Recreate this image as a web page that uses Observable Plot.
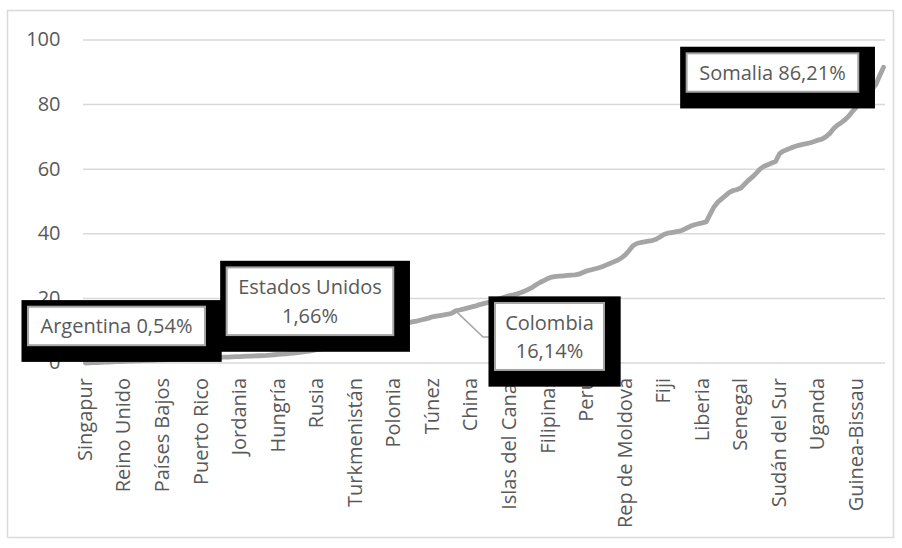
<!DOCTYPE html>
<html>
<head>
<meta charset="utf-8">
<script src="https://cdn.jsdelivr.net/npm/d3@7"></script>
<script src="https://cdn.jsdelivr.net/npm/@observablehq/plot@0.6"></script>
<style>
  html, body { margin: 0; padding: 0; background: #ffffff; }
  #chart { width: 902px; height: 548px; }
  svg { display: block; }
</style>
</head>
<body>
<div id="chart"></div>
<script>
// ---- Data ----
const tickLabels = ["Singapur", "Reino Unido", "Países Bajos", "Puerto Rico", "Jordania", "Hungría", "Rusia",
  "Turkmenistán", "Polonia", "Túnez", "China", "Islas del Canal", "Filipinas", "Perú", "Rep de Moldova",
  "Fiji", "Liberia", "Senegal", "Sudán del Sur", "Uganda", "Guinea-Bissau"];
const tickPositions = [0, 10, 20, 30, 40, 50, 60, 70, 80, 90, 100, 110, 120, 130, 140, 150, 160, 170, 180, 190, 200];
const yTicks = [0, 20, 40, 60, 80, 100];

// One value per country, sorted ascending (percent)
const shares = [
  0.0, 0.05, 0.1, 0.15, 0.2, 0.25, 0.3, 0.35, 0.4, 0.45,
  0.54, 0.57, 0.6, 0.65, 0.7, 0.75, 0.8, 0.85, 0.9, 0.95,
  1.0, 1.05, 1.1, 1.15, 1.2, 1.25, 1.3, 1.35, 1.4, 1.45,
  1.5, 1.55, 1.6, 1.66, 1.7, 1.75, 1.8, 1.85, 1.9, 1.95,
  2.0, 2.05, 2.1, 2.15, 2.2, 2.25, 2.3, 2.35, 2.45, 2.55,
  2.65, 2.75, 2.85, 2.95, 3.05, 3.2, 3.35, 3.5, 3.7, 3.9,
  4.1, 4.3, 4.5, 4.75, 5.0, 5.25, 5.5, 5.8, 6.1, 6.4,
  6.8, 7.1, 7.4, 7.7, 8.0, 8.3, 8.6, 8.9, 9.3, 9.7,
  10.1, 10.6, 11.1, 11.8, 12.5, 12.8, 13.0, 13.3, 13.6, 13.9,
  14.3, 14.5, 14.7, 14.9, 15.1, 15.4, 16.14, 16.4, 16.7, 17.0,
  17.3, 17.6, 18.0, 18.3, 18.6, 18.9, 19.3, 19.7, 20.1, 20.5,
  20.9, 21.1, 21.4, 21.8, 22.3, 22.9, 23.5, 24.3, 25.0, 25.6,
  26.2, 26.6, 26.8, 26.9, 27.0, 27.1, 27.2, 27.3, 27.5, 28.0,
  28.5, 28.8, 29.1, 29.4, 29.8, 30.3, 30.8, 31.3, 31.8, 32.5,
  33.5, 34.8, 36.3, 37.0, 37.3, 37.5, 37.7, 37.9, 38.3, 39.0,
  39.8, 40.2, 40.4, 40.6, 40.8, 41.2, 41.8, 42.4, 42.8, 43.1,
  43.4, 43.7, 46.0, 48.3, 49.8, 50.8, 51.8, 52.8, 53.4, 53.7,
  54.2, 55.4, 56.6, 57.6, 58.8, 60.1, 60.9, 61.4, 61.9, 62.4,
  64.8, 65.6, 66.1, 66.6, 67.0, 67.4, 67.7, 67.9, 68.2, 68.6,
  69.0, 69.3, 70.0, 71.0, 72.5, 73.6, 74.4, 75.3, 76.5, 78.0,
  79.3, 80.6, 82.0, 83.4, 84.8, 86.21, 89.0, 91.6
];

// Annotated countries: name lines, position in the sorted list, value
const annNames = [["Argentina 0,54%"], ["Estados Unidos", "1,66%"], ["Colombia", "16,14%"], ["Somalia 86,21%"]];
const annIndex = [10, 33, 96, 205];
const annValue = [0.54, 1.66, 16.14, 86.21];

// ---- Layout (pixels) ----
const W = 902, H = 548;
const boxLayout = [
  {dx: -7, dy: -34.8, w: 177, h: 38.5, leader: false},
  {dx: 97.8, dy: -55.9, w: 166.6, h: 67.7, leader: false},
  {dx: 94.4, dy: 26.1, w: 109, h: 67, leader: true},
  {dx: -102.9, dy: -11.5, w: 171.6, h: 38.4, leader: false}
];
const FONT = "'Open Sans', 'Noto Sans', sans-serif";
const TEXT = "#595959";

const data = shares.map((v, i) => ({i, v}));

const plot = Plot.plot({
  width: W,
  height: H,
  marginLeft: 83,
  marginRight: 17,
  marginTop: 39.5,
  marginBottom: 185.5,
  x: {domain: [-0.5, shares.length - 0.5], axis: null, label: null},
  y: {domain: [0, 100], axis: null, label: null},
  style: {fontFamily: FONT, fontSize: "20px", color: TEXT, background: "transparent"},
  marks: [
    Plot.gridY(yTicks, {stroke: "#d9d9d9", strokeOpacity: 1, strokeWidth: 1.5}),
    Plot.axisY(yTicks, {tickSize: 0, tickPadding: 23, fontSize: 20, fill: TEXT, fontFamily: FONT, label: null}),
    Plot.axisX(tickPositions, {
      tickSize: 0, tickPadding: 15, tickRotate: -90, fontSize: 20, fill: TEXT, fontFamily: FONT, label: null,
      tickFormat: (d) => tickLabels[tickPositions.indexOf(d)]
    }),
    Plot.line(data, {x: "i", y: "v", stroke: "#a5a5a5", strokeWidth: 4.8, strokeLinejoin: "round", strokeLinecap: "round"})
  ]
});

document.getElementById("chart").appendChild(plot);

const svg = d3.select(plot);
const sx = plot.scale("x"), sy = plot.scale("y");

// outer chart frame
svg.insert("rect", ":first-child")
  .attr("x", 7.5).attr("y", 10.5).attr("width", 886).attr("height", 527)
  .attr("fill", "none").attr("stroke", "#d9d9d9").attr("stroke-width", 1.5);

const g = svg.append("g");
annNames.forEach((lines, k) => {
  const L = boxLayout[k];
  const px = sx.apply(annIndex[k]);
  const py = sy.apply(annValue[k]);
  const cx = px + L.dx, cy = py + L.dy;
  const left = cx - L.w / 2, top = cy - L.h / 2;
  if (L.leader) {
    g.append("polyline")
      .attr("points", `${px},${py} ${px + 28},${py + 26.6} ${left},${py + 26.6}`)
      .attr("fill", "none").attr("stroke", "#a5a5a5").attr("stroke-width", 1.5);
  }
  g.append("rect")
    .attr("x", left - 6.5).attr("y", top - 6.6)
    .attr("width", L.w + 6.5 + 16.7).attr("height", L.h + 6.6 + 16.7)
    .attr("fill", "#000000");
  g.append("rect")
    .attr("x", left).attr("y", top).attr("width", L.w).attr("height", L.h)
    .attr("fill", "#ffffff").attr("stroke", "#a5a5a5").attr("stroke-width", 2);
  const n = lines.length;
  lines.forEach((t, j) => {
    g.append("text")
      .attr("x", cx).attr("y", cy + (j - (n - 1) / 2) * 28.5)
      .attr("text-anchor", "middle").attr("dominant-baseline", "central")
      .attr("font-family", FONT).attr("font-size", 20).attr("fill", TEXT)
      .text(t);
  });
});
</script>
</body>
</html>
